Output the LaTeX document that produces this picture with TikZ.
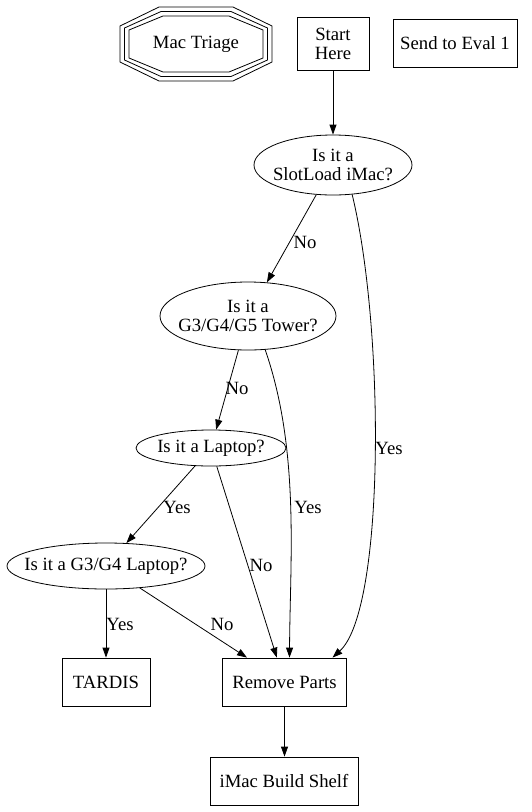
\documentclass[tikz,border=0pt]{standalone}
\usepackage{fontspec}
\setmainfont{Liberation Serif}
\usetikzlibrary{shapes.geometric,arrows.meta}
\begin{document}
\begin{tikzpicture}[x=1pt,y=-1pt,
  every node/.style={font=\fontsize{18.7}{21}\selectfont, align=center},
  box/.style={draw, line width=0.8pt, rectangle, inner sep=0pt},
  oval/.style={draw, line width=0.8pt, ellipse, inner sep=0pt},
  txt/.style={inner sep=0pt},
  edge/.style={draw, line width=0.8pt, -{Triangle[length=10pt,width=7pt]}},
  lbl/.style={inner sep=0pt},
  oct/.style={draw, line width=0.8pt}
]
\useasboundingbox (0,0) rectangle (531,812);

% Mac Triage (triple octagon)
\node[inner sep=0pt] (triage) at (196,44) {Mac Triage};
\foreach \a/\b/\c/\d in {76/18/37/37, 71.5/16/35/32.5, 67/14/33/28}{
  \draw[oct] (196-\a,44-\b) -- (196-\c,44-\d) -- (196+\c,44-\d) -- (196+\a,44-\b)
     -- (196+\a,44+\b) -- (196+\c,44+\d) -- (196-\c,44+\d) -- (196-\a,44+\b) -- cycle;
}

\node[box, minimum width=72pt, minimum height=53pt] (start) at (333,43.5) {Start\\[-2pt]Here};
\node[box, minimum width=124pt, minimum height=48pt] (eval) at (455,43) {Send to Eval 1};

\node[oval, minimum width=158pt, minimum height=60pt] (slot) at (333,165) {};
\node[txt] (slot-t) at (slot) {Is it a\\[-2pt]SlotLoad iMac?};
\node[oval, minimum width=176pt, minimum height=68pt] (tower) at (248,316) {};
\node[txt] (tower-t) at (tower) {Is it a\\[-2pt]G3/G4/G5 Tower?};
\node[oval, minimum width=150pt, minimum height=36pt] (laptop) at (211,448) {};
\node[txt] (laptop-t) at (laptop) {Is it a Laptop?};
\node[oval, minimum width=198pt, minimum height=46pt] (g3g4) at (106,566) {};
\node[txt] (g3g4-t) at (g3g4) {Is it a G3/G4 Laptop?};

\node[box, minimum width=88pt, minimum height=48pt] (tardis) at (106,682) {TARDIS};
\node[box, minimum width=124pt, minimum height=48pt] (remove) at (284.5,682) {Remove Parts};
\node[box, minimum width=148pt, minimum height=48pt] (shelf) at (284,781) {iMac Build Shelf};

% edges
\path[edge] (start) -- (slot);
\path[edge] (slot) -- (tower);
\path[edge] (slot.-57.7) .. controls (385,330) and (385,610) .. ([xshift=48pt]remove.north);
\path[edge] (tower) -- (laptop);
\path[edge] (tower.-63.4) .. controls (300,450) and (290,560) .. ([xshift=5pt]remove.north);
\path[edge] (laptop) -- (g3g4);
\path[edge] (laptop) -- (remove);
\path[edge] (g3g4) -- (tardis);
\path[edge] (g3g4) -- (remove);
\path[edge] (remove.south) -- (remove.south |- shelf.north);

% labels
\node[lbl] (l1) at (305,242) {No};
\node[lbl] (l2) at (389,448) {Yes};
\node[lbl] (l3) at (237,388) {No};
\node[lbl] (l4) at (308,507) {Yes};
\node[lbl] (l5) at (177,507) {Yes};
\node[lbl] (l6) at (261,565) {No};
\node[lbl] (l7) at (120,624) {Yes};
\node[lbl] (l8) at (222,624) {No};
\end{tikzpicture}
\end{document}
